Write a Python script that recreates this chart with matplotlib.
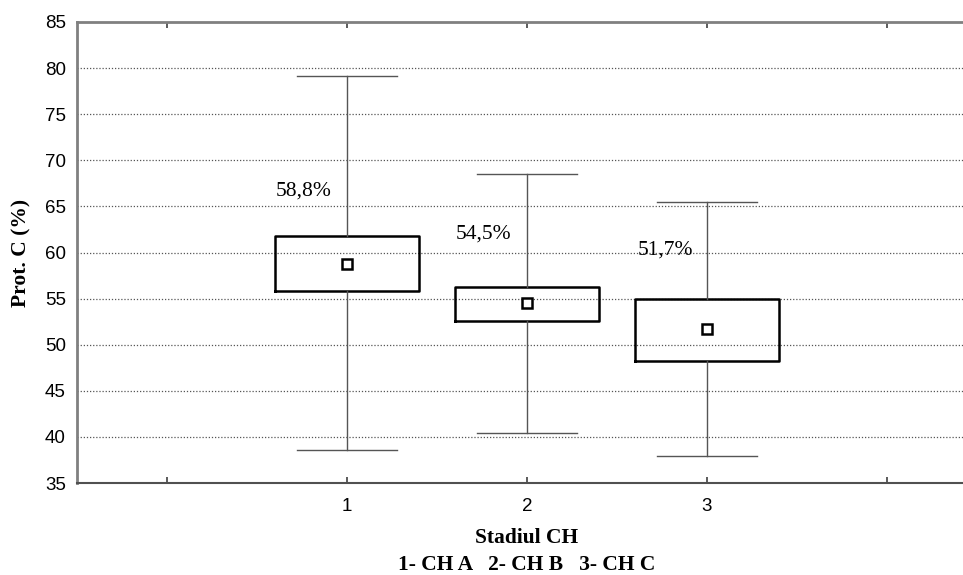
import matplotlib
matplotlib.use("Agg")
import matplotlib.pyplot as plt
import matplotlib.transforms as mtransforms

# Protein C (%) by CH stage: mean, box (q1..q3) and whisker range
stages = [1, 2, 3]
means = [58.8, 54.5, 51.7]
box_low = [55.86, 52.57, 48.23]
box_high = [61.82, 56.3, 55.0]
whisker_low = [38.6, 40.4, 37.93]
whisker_high = [79.14, 68.5, 65.44]
mean_labels = ["58,8%", "54,5%", "51,7%"]
label_y = [66.7, 62.0, 60.3]
label_x_offset = [-0.24, -0.24, -0.23]

y_ticks = [35, 40, 45, 50, 55, 60, 65, 70, 75, 80, 85]

fig = plt.figure(figsize=(9.63, 5.75), dpi=100)
ax = fig.add_axes([77 / 963, 1 - 483 / 575, 1 - 77 / 963, (483 - 22) / 575])

stats = []
for i in range(len(stages)):
    stats.append(dict(
        med=means[i], mean=means[i],
        q1=box_low[i], q3=box_high[i],
        whislo=whisker_low[i], whishi=whisker_high[i],
        fliers=[],
    ))

ax.bxp(
    stats, positions=stages, widths=0.8, capwidths=0.556,
    showmeans=True, showfliers=False, patch_artist=False,
    boxprops=dict(color="black", linewidth=1.8),
    whiskerprops=dict(color="#555555", linewidth=1.0),
    capprops=dict(color="#555555", linewidth=1.0),
    medianprops=dict(visible=False),
    meanprops=dict(marker="s", markersize=7, markerfacecolor="white",
                   markeredgecolor="black", markeredgewidth=1.8),
    zorder=3,
)

for x, lab, ly, dx in zip(stages, mean_labels, label_y, label_x_offset):
    ax.text(x + dx, ly, lab, ha="center", va="center",
            fontsize=15.5, family="Liberation Serif", color="black")

ax.set_ylim(35, 85)
ax.set_xlim(-0.5, -0.5 + 886 / 180)
ax.set_yticks(y_ticks)
ax.set_yticklabels([str(v) for v in y_ticks], family="Liberation Sans", fontsize=13.5)
ax.set_xticks([0, 1, 2, 3, 4])
ax.set_xticklabels(["", "1", "2", "3", ""], family="Liberation Sans", fontsize=13.5)
ax.tick_params(axis="x", direction="in", length=4, width=1.2, color="#404040",
               top=True, pad=11)
ax.tick_params(axis="y", length=0, pad=8)

for v in y_ticks[1:-1]:
    ax.axhline(v, color="#555555", linestyle=(0, (1, 1.5)), linewidth=0.9, zorder=1)

ax.spines["right"].set_visible(False)
for side in ["left", "top"]:
    ax.spines[side].set_color("#808080")
    ax.spines[side].set_linewidth(2)
ax.spines["bottom"].set_color("#505050")
ax.spines["bottom"].set_linewidth(1.5)

ax.set_ylabel("Prot. C (%)", family="Liberation Serif", fontweight="bold",
              fontsize=15.5, labelpad=10)

trans = mtransforms.blended_transform_factory(ax.transData, fig.transFigure)
ax.text(2, 1 - 538 / 575, "Stadiul CH", transform=trans, ha="center", va="center",
        family="Liberation Serif", fontweight="bold", fontsize=15.5)
ax.text(2, 1 - 565 / 575, "1- CH A   2- CH B   3- CH C", transform=trans,
        ha="center", va="center", family="Liberation Serif", fontweight="bold",
        fontsize=15.5)

fig.savefig("out.png", dpi=100)
